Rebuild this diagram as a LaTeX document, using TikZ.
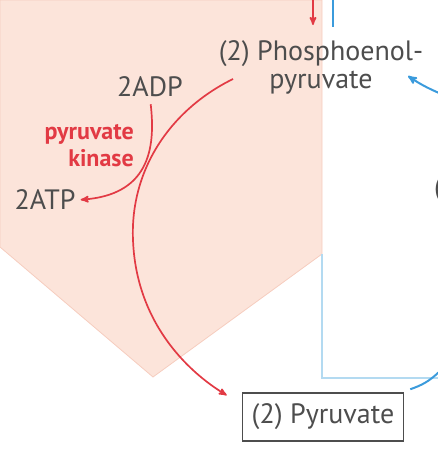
\documentclass[tikz,border=0pt]{standalone}
\usepackage{fontspec}
\setmainfont{PT Sans}
\usetikzlibrary{arrows,positioning}
\definecolor{txtgrey}{HTML}{4D4D4D}
\definecolor{enzred}{HTML}{E23A44}
\definecolor{pinkbg}{HTML}{FCE4DA}
\definecolor{pinkedge}{HTML}{F6CDBF}
\definecolor{cycblue}{HTML}{3B9BDC}
\definecolor{paleblue}{HTML}{B3DAF1}
\tikzset{
    %Define standard arrow tip
    >=stealth',
    %Define style for metabolites
    metab/.style={
           text=txtgrey,
           font=\fontsize{28}{28}\selectfont,
           align=center,
           inner sep=1pt},
    %Define style for boxes
    box/.style={
           metab,
           rectangle,
           draw=txtgrey, line width=1.5pt,
           minimum width=161pt,
           minimum height=48pt},
    % Define arrow styles
    react/.style={
           ->,
           enzred,
           line width=1.7pt},
    cycle/.style={
           cycblue,
           line width=2pt},
    enzyme/.style={
           text=enzred,
           font=\bfseries\fontsize{24}{27}\selectfont,
           align=right,
           inner sep=0pt}
}
\begin{document}
\begin{tikzpicture}[x=1pt, y=-1pt]
 \useasboundingbox (0,0) rectangle (438,450);
 %background
    \fill[pinkbg, draw=pinkedge, line width=0.8pt] (0,0) -- (322,0) -- (322,254) -- (153,377) -- (0,247) -- cycle;
    \draw[paleblue, line width=1.5pt] (322,254) -- (322,378) -- (439,378);
 %nodes
    \node[metab] (pep) at (321,67) {(2) Phosphoenol-\\pyruvate};
    \node[metab] (adp) at (150,87) {2ADP};
    \node[metab] (atp) at (45,200) {2ATP};
    \node[enzyme, anchor=east] (pk) at (134,146) {pyruvate\\kinase};
    \node[box] (pyr) at (323,417) {(2) Pyruvate};
    \node[metab, anchor=west] (oaa) at (433,190) {(};
    \coordinate (pepout) at (233,79);
    \coordinate (redin) at (313,0);
    \coordinate (bluein) at (333,0);
    \coordinate (bluer) at (439,93);
    \coordinate (bluel) at (439,372);
 %edges
    \draw[react] (redin) -- (313,25);
    \draw[cycle] (bluein) -- (333,27);
    \draw[cycle, ->] (bluer) to[bend left=5] (408,76);
    \draw[cycle] (bluel) to[bend left=12] ([xshift=6pt,yshift=3pt]pyr.north east);
    \draw[react] (pepout) .. controls (170,110) and (130,170) .. (133,240)
                          .. controls (136,320) and (185,370) .. ([xshift=-15pt,yshift=-3pt]pyr.north west);
    \draw[react, shorten <=6pt, shorten >=4pt] (adp.south) .. controls (156,150) and (148,195) .. (atp.east);
  \end{tikzpicture}
\end{document}
